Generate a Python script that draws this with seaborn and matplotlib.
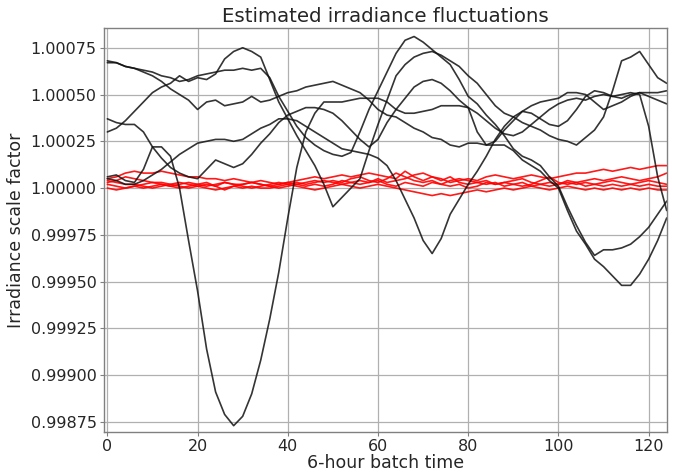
import numpy as np
import pandas as pd
import matplotlib
matplotlib.use("Agg")
import matplotlib.pyplot as plt
import matplotlib.ticker as mticker
import seaborn as sns

# batch time, every second batch
batch = list(range(0, 125, 2))

# irradiance offsets from 1.0, in units of 1e-5
black_1e5 = [
    [30, 32, 36, 41, 46, 51, 54, 56, 60, 57,
     59, 58, 61, 69, 73, 75, 73, 70, 58, 46,
     37, 28, 20, 12, 2, -10, -5, 0, 5, 20,
     34, 47, 60, 66, 70, 72, 73, 71, 68, 65,
     60, 56, 50, 44, 40, 38, 35, 33, 31, 28,
     26, 25, 23, 27, 31, 38, 52, 68, 70, 73,
     66, 59, 56],
    [68, 67, 65, 64, 63, 62, 60, 59, 57, 58,
     60, 61, 62, 63, 63, 64, 63, 64, 59, 49,
     41, 33, 27, 23, 20, 18, 17, 19, 30, 42,
     52, 62, 72, 79, 81, 78, 74, 70, 66, 58,
     49, 45, 39, 34, 28, 21, 17, 15, 12, 6,
     1, -10, -20, -29, -36, -33, -33, -32, -30, -26,
     -21, -14, -7],
    [67, 67, 65, 64, 62, 60, 57, 53, 50, 47,
     42, 46, 47, 44, 45, 46, 49, 46, 47, 49,
     51, 52, 54, 55, 56, 57, 55, 53, 51, 47,
     42, 39, 38, 35, 32, 30, 27, 26, 23, 22,
     24, 24, 23, 25, 31, 36, 41, 44, 46, 47,
     48, 51, 51, 50, 46, 42, 44, 46, 49, 51,
     51, 51, 52],
    [37, 35, 34, 34, 30, 22, 16, 11, 8, 6,
     5, 10, 15, 13, 11, 13, 18, 24, 29, 35,
     39, 41, 43, 43, 42, 40, 36, 31, 26, 22,
     26, 35, 42, 48, 54, 57, 58, 56, 52, 47,
     43, 30, 23, 23, 23, 20, 15, 12, 9, 4,
     0, -12, -23, -30, -38, -42, -47, -52, -52, -46,
     -38, -28, -16],
    [5, 4, 2, 2, 4, 7, 10, 14, 18, 21,
     24, 25, 26, 26, 25, 26, 29, 32, 34, 37,
     37, 36, 33, 30, 27, 24, 21, 20, 19, 18,
     16, 12, 4, -6, -16, -28, -35, -27, -14, -6,
     2, 9, 17, 26, 33, 38, 41, 40, 37, 34,
     33, 36, 42, 49, 52, 51, 49, 50, 51, 50,
     33, 6, -12],
    [6, 7, 4, 3, 10, 22, 22, 17, 0, -28,
     -55, -86, -109, -121, -127, -122, -110, -92, -70, -45,
     -16, 11, 30, 40, 46, 46, 46, 47, 48, 48,
     48, 46, 42, 40, 40, 41, 42, 44, 44, 44,
     43, 40, 36, 32, 29, 28, 30, 34, 38, 42,
     45, 47, 48, 47, 49, 50, 49, 48, 50, 51,
     49, 47, 45],
]

red_1e5 = [
    [5, 6, 8, 9, 8, 8, 9, 8, 7, 6,
     6, 5, 5, 4, 5, 4, 3, 4, 3, 2,
     3, 4, 5, 6, 5, 6, 7, 6, 7, 8,
     7, 6, 5, 9, 6, 4, 6, 5, 3, 4,
     5, 4, 6, 7, 6, 5, 6, 7, 6, 5,
     6, 7, 8, 8, 9, 10, 9, 10, 11, 10,
     11, 12, 12],
    [3, 4, 6, 5, 4, 3, 3, 2, 3, 2,
     1, 2, 1, 3, 2, 2, 3, 2, 1, 2,
     3, 2, 3, 4, 3, 4, 3, 5, 6, 4,
     3, 5, 8, 6, 4, 3, 4, 2, 4, 5,
     4, 3, 2, 3, 1, 2, 3, 1, 2, 3,
     2, 4, 3, 4, 5, 4, 5, 6, 5, 4,
     5, 6, 8],
    [2, 1, 0, 1, 2, 3, 2, 1, 0, 1,
     2, 3, 1, -1, 1, 2, 3, 2, 1, 0,
     1, 2, 1, 2, 1, 2, 4, 3, 2, 3,
     4, 2, 1, 3, 2, 1, 3, 2, 1, 2,
     0, 1, 3, 2, 3, 2, 1, 2, 4, 6,
     3, 2, 3, 1, 2, 3, 4, 3, 2, 3,
     4, 3, 2],
    [4, 3, 2, 2, 1, 0, 1, 2, 1, 0,
     1, 0, -1, 0, 1, 0, 1, 0, 0, 1,
     2, 1, 0, -1, 0, 1, 2, 1, 0, 1,
     2, 1, 0, -1, -2, -3, -4, -3, -4, -3,
     -2, -1, -2, -1, 0, -1, 0, 1, 0, -1,
     0, 1, 0, -1, 0, -1, 0, -1, 0, -1,
     0, -1, -1],
    [0, -1, 0, 1, 0, 1, 2, 1, 2, 3,
     2, 1, 2, 3, 2, 1, 0, 1, 2, 3,
     2, 3, 2, 3, 4, 3, 2, 3, 4, 3,
     5, 3, 4, 5, 7, 8, 6, 4, 6, 3,
     2, 3, 4, 2, 3, 4, 5, 3, 2, 1,
     2, 3, 2, 3, 2, 1, 2, 1, 2, 1,
     2, 1, 1],
]

sns.set_style("whitegrid", {"grid.color": "#b0b0b0", "axes.edgecolor": "#808080"})
plt.rcParams["font.family"] = ["DejaVu Sans"]

fig = plt.figure(figsize=(6.81, 4.73), dpi=100)
ax = fig.add_axes([0.153, 0.087, 0.826, 0.854])

for vals in red_1e5:
    sns.lineplot(x=batch, y=[1 + v * 1e-5 for v in vals], color="red",
                 linewidth=1.2, alpha=0.9, ax=ax)
for vals in black_1e5:
    sns.lineplot(x=batch, y=[1 + v * 1e-5 for v in vals], color="#111111",
                 linewidth=1.2, alpha=0.85, ax=ax)

ax.set_xlim(-0.7, 124)
ax.set_ylim(1 - 130.3e-5, 1 + 85.6e-5)
ax.set_xticks([0, 20, 40, 60, 80, 100, 120])
ax.set_yticks([1 + k * 25e-5 for k in range(-5, 4)])
ax.yaxis.set_major_formatter(mticker.FormatStrFormatter("%.5f"))
ax.tick_params(labelsize=11.5, length=3, width=0.8, color="#808080", pad=2.5,
               left=True, bottom=True)
ax.grid(True, color="#b0b0b0", linewidth=0.9)
for s in ax.spines.values():
    s.set_color("#808080")
    s.set_linewidth(1.0)

ax.set_title("Estimated irradiance fluctuations", fontsize=14.2, pad=4)
ax.set_xlabel("6-hour batch time", fontsize=12.5, labelpad=0)
ax.set_ylabel("Irradiance scale factor", fontsize=12.5, labelpad=4)

fig.savefig("out.png", dpi=100)
